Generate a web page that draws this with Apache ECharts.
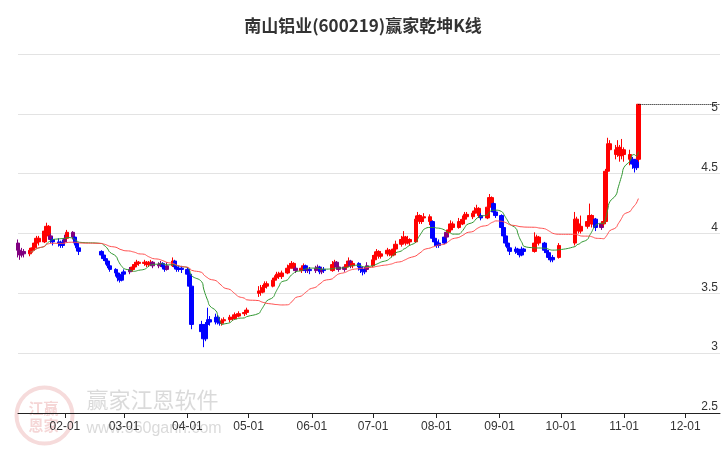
<!DOCTYPE html>
<html><head><meta charset="utf-8">
<script src="https://cdn.jsdelivr.net/npm/echarts@6/dist/echarts.min.js"></script>
<style>body{margin:0}#c{width:726px;height:450px}</style></head>
<body><div id="c"></div>
<script>
// 交易日（休市日）
var holidays = ['2024-02-09','2024-02-12','2024-02-13','2024-02-14','2024-02-15','2024-02-16',
  '2024-04-04','2024-04-05','2024-05-01','2024-05-02','2024-05-03','2024-06-10',
  '2024-09-16','2024-09-17','2024-10-01','2024-10-02','2024-10-03','2024-10-04','2024-10-07'];
var axisStart = '2024-01-09', axisEnd = '2024-12-18';
var firstDay = '2024-01-09', lastDay = '2024-11-08';

// K线 [开, 收, 低, 高]，按月
var kJan = [[3.92,3.86,3.80,3.95],[3.86,3.82,3.78,3.88],[3.82,3.85,3.80,3.88],[3.85,3.83,3.80,3.87],[3.83,3.86,3.81,3.88],
  [3.86,3.88,3.84,3.90],[3.88,3.92,3.86,3.94],[3.92,3.96,3.90,3.98],[3.96,3.93,3.90,3.98],[3.93,4.02,3.92,4.04],
  [4.02,4.06,3.99,4.09],[4.06,3.98,3.96,4.07],[3.98,3.95,3.92,4.00],[3.95,3.93,3.90,3.97],[3.93,3.92,3.89,3.96],
  [3.92,3.90,3.88,3.94],[3.90,3.93,3.88,3.95]];
var kFeb = [[3.93,3.96,3.91,3.99],[3.96,4.01,3.95,4.03],[4.01,3.97,3.95,4.02],[3.97,3.92,3.90,3.98],[3.92,3.88,3.85,3.93],
  [3.88,3.85,3.82,3.89],[3.85,3.82,3.80,3.86],[3.82,3.79,3.77,3.84],[3.79,3.77,3.74,3.80],[3.77,3.73,3.71,3.78],
  [3.73,3.70,3.68,3.75],[3.70,3.67,3.64,3.71],[3.67,3.63,3.60,3.68],[3.63,3.61,3.59,3.66],[3.61,3.66,3.60,3.68]];
var kMar = [[3.66,3.68,3.64,3.70],[3.68,3.70,3.66,3.72],[3.70,3.72,3.68,3.74],[3.72,3.74,3.70,3.76],[3.74,3.76,3.72,3.78],
  [3.76,3.75,3.73,3.77],[3.75,3.76,3.73,3.78],[3.76,3.74,3.72,3.77],[3.74,3.75,3.72,3.77],[3.75,3.76,3.73,3.78],
  [3.76,3.73,3.71,3.77],[3.73,3.74,3.71,3.76],[3.74,3.75,3.72,3.77],[3.75,3.72,3.70,3.76],[3.72,3.70,3.68,3.74],
  [3.70,3.73,3.69,3.76],[3.73,3.77,3.72,3.80],[3.77,3.72,3.70,3.78],[3.72,3.70,3.68,3.74],[3.70,3.71,3.68,3.73],
  [3.71,3.70,3.67,3.73]];
var kApr = [[3.70,3.66,3.63,3.72],[3.66,3.56,3.53,3.67],[3.56,3.24,3.20,3.57],[3.24,3.18,3.14,3.27],[3.18,3.12,3.05,3.20],
  [3.12,3.24,3.10,3.26],[3.24,3.28,3.22,3.38],[3.28,3.26,3.23,3.31],[3.26,3.30,3.24,3.33],[3.30,3.26,3.24,3.32],
  [3.26,3.25,3.23,3.28],[3.25,3.27,3.23,3.29],[3.27,3.28,3.25,3.30],[3.28,3.30,3.26,3.32],[3.30,3.29,3.27,3.32],
  [3.29,3.32,3.28,3.34],[3.32,3.31,3.29,3.33],[3.31,3.33,3.30,3.35],[3.33,3.34,3.31,3.36],[3.34,3.36,3.32,3.38]];
var kMay = [[3.50,3.52,3.47,3.56],[3.52,3.51,3.48,3.57],[3.51,3.55,3.50,3.57],[3.55,3.58,3.53,3.60],[3.58,3.56,3.54,3.60],
  [3.56,3.61,3.55,3.63],[3.61,3.63,3.59,3.65],[3.63,3.66,3.61,3.68],[3.66,3.64,3.62,3.68],[3.64,3.67,3.62,3.69],
  [3.67,3.71,3.66,3.74],[3.71,3.73,3.69,3.75],[3.73,3.75,3.71,3.77],[3.75,3.71,3.69,3.76],[3.71,3.69,3.67,3.73],
  [3.69,3.71,3.67,3.73],[3.71,3.73,3.69,3.75],[3.73,3.69,3.67,3.74],[3.69,3.70,3.67,3.72],[3.70,3.69,3.66,3.72]];
var kJun = [[3.69,3.71,3.67,3.73],[3.71,3.72,3.69,3.74],[3.72,3.68,3.66,3.73],[3.68,3.70,3.66,3.72],[3.70,3.69,3.67,3.72],
  [3.69,3.74,3.68,3.77],[3.74,3.76,3.72,3.78],[3.76,3.72,3.70,3.77],[3.72,3.70,3.68,3.74],[3.70,3.72,3.68,3.74],
  [3.72,3.74,3.70,3.77],[3.74,3.77,3.72,3.80],[3.77,3.73,3.71,3.78],[3.73,3.75,3.71,3.77],[3.75,3.72,3.69,3.76],
  [3.72,3.70,3.67,3.73],[3.70,3.68,3.65,3.72],[3.68,3.70,3.66,3.72],[3.70,3.73,3.68,3.76]];
var kJul = [[3.73,3.78,3.72,3.82],[3.78,3.82,3.76,3.85],[3.82,3.85,3.80,3.87],[3.85,3.81,3.79,3.86],[3.81,3.83,3.79,3.85],
  [3.83,3.86,3.81,3.88],[3.86,3.83,3.81,3.87],[3.83,3.82,3.80,3.85],[3.82,3.87,3.81,3.89],[3.87,3.91,3.86,3.94],
  [3.91,3.95,3.89,3.98],[3.95,3.97,3.93,4.02],[3.97,3.92,3.90,3.98],[3.92,3.95,3.91,3.98],[3.95,3.93,3.90,3.96],
  [3.93,4.12,3.92,4.15],[4.12,4.15,4.09,4.18],[4.15,4.10,4.08,4.16],[4.10,4.13,4.08,4.15],[4.13,4.14,4.10,4.17],
  [4.14,4.10,4.07,4.16],[4.10,3.96,3.93,4.11],[3.96,3.93,3.90,3.98]];
var kAug = [[3.93,3.90,3.88,3.95],[3.90,3.92,3.88,3.95],[3.92,3.97,3.91,4.00],[3.97,4.01,3.95,4.03],[4.01,4.03,3.99,4.06],
  [4.03,4.08,4.02,4.11],[4.08,4.05,4.03,4.10],[4.05,4.10,4.04,4.13],[4.10,4.08,4.06,4.12],[4.08,4.12,4.07,4.15],
  [4.12,4.16,4.10,4.18],[4.16,4.14,4.12,4.18],[4.14,4.17,4.12,4.19],[4.17,4.19,4.15,4.22],[4.19,4.21,4.17,4.24],
  [4.21,4.15,4.13,4.22],[4.15,4.13,4.11,4.17],[4.13,4.22,4.12,4.25],[4.22,4.30,4.20,4.33],[4.30,4.25,4.22,4.31],
  [4.25,4.18,4.16,4.26],[4.18,4.15,4.13,4.20]];
var kSep = [[4.15,4.05,4.02,4.16],[4.05,3.98,3.95,4.06],[3.98,3.92,3.89,3.99],[3.92,3.88,3.85,3.93],[3.88,3.85,3.82,3.90],
  [3.85,3.87,3.83,3.89],[3.87,3.84,3.82,3.88],[3.84,3.82,3.80,3.86],[3.82,3.87,3.81,3.89],[3.87,3.85,3.83,3.88],
  [3.85,3.92,3.84,4.01],[3.92,3.97,3.90,3.99],[3.97,3.92,3.90,3.98],[3.92,3.86,3.84,3.93],[3.86,3.84,3.82,3.88],
  [3.84,3.80,3.78,3.86],[3.80,3.78,3.76,3.82],[3.78,3.80,3.76,3.82],[3.80,3.90,3.79,3.92]];
var kOct = [[3.92,4.12,3.90,4.18],[4.12,4.08,4.04,4.14],[4.08,4.02,4.00,4.10],[4.02,4.06,4.00,4.15],
  [4.06,4.10,4.04,4.12],[4.10,4.15,4.08,4.25],[4.15,4.08,4.05,4.16],[4.08,4.12,4.06,4.15],[4.12,4.05,4.02,4.13],
  [4.05,4.08,4.03,4.10],[4.08,4.10,4.06,4.17],[4.10,4.52,4.09,4.54],[4.52,4.75,4.60,4.80],[4.75,4.70,4.66,4.78],
  [4.70,4.66,4.62,4.74],[4.66,4.72,4.64,4.78],[4.72,4.65,4.60,4.74],[4.65,4.70,4.62,4.79]];
var kNov = [[4.70,4.66,4.60,4.72],[4.66,4.62,4.57,4.70],[4.62,4.58,4.54,4.64],[4.58,4.55,4.51,4.60],[4.55,4.62,4.53,4.66],
  [4.62,5.08,4.60,5.08]];

var kData = [].concat(kJan, kFeb, kMar, kApr, kMay, kJun, kJul, kAug, kSep, kOct, kNov);

function fmt(d) {
  var m = d.getMonth() + 1, day = d.getDate();
  return d.getFullYear() + '-' + (m < 10 ? '0' : '') + m + '-' + (day < 10 ? '0' : '') + day;
}
// 日历日为类目轴
var days = [];
for (var d = new Date(axisStart + 'T00:00:00'); fmt(d) <= axisEnd; d.setDate(d.getDate() + 1)) days.push(fmt(d));
var tradeDays = days.filter(function (s) {
  var w = new Date(s + 'T00:00:00').getDay();
  return s >= firstDay && s <= lastDay && w != 0 && w != 6 && holidays.indexOf(s) < 0;
});

var kMap = {};
tradeDays.forEach(function (s, i) { if (kData[i]) { kMap[s] = kData[i]; } });
function ma(n) {
  var out = [], hist = [];
  days.forEach(function (s) {
    if (kMap[s]) {
      hist.push(kMap[s][1]);
      var k = hist.slice(-n), sum = 0;
      k.forEach(function (v) { sum += v; });
      out.push(hist.length >= Math.min(n, 5) ? +(sum / k.length).toFixed(3) : '-');
    } else out.push('-');
  });
  return out;
}
var ma10 = ma(10), ma30 = ma(30);
// 颜色按收盘价相对短均线：上红、下蓝、贴近为紫
var candle = days.map(function (s, i) {
  var k = kMap[s];
  if (!k) return '-';
  var m = ma10[i] == '-' ? k[1] : ma10[i];
  var c = k[1] - m > 0.012 ? '#ff0000' : (m - k[1] > 0.012 ? '#0000ff' : '#800080');
  return { value: k, itemStyle: { color: c, color0: c, borderColor: c, borderColor0: c, borderColorDoji: c } };
});
var last = tradeDays[kData.length - 1];

var chart = echarts.init(document.getElementById('c'));
chart.setOption({
  animation: false,
  title: { text: '南山铝业(600219)赢家乾坤K线', left: 'center', top: 12,
    textStyle: { fontSize: 17, fontWeight: 'bold', color: '#333', fontFamily: 'Noto Sans CJK SC' } },
  grid: { left: 18, right: 6, top: 54, bottom: 37 },
  xAxis: {
    type: 'category', data: days, boundaryGap: false,
    axisLine: { lineStyle: { color: '#222' } },
    axisTick: { interval: function (i, v) { return v.slice(8) == '01'; }, lineStyle: { color: '#222' } },
    axisLabel: { interval: function (i, v) { return v.slice(8) == '01'; }, formatter: function (v) { return v.slice(5); },
      color: '#333', fontSize: 12 },
    splitLine: { show: false }
  },
  yAxis: {
    type: 'value', min: 2.5, max: 5.5, interval: 0.5, position: 'right',
    axisLine: { show: false }, axisTick: { show: false },
    axisLabel: { inside: true, showMaxLabel: false, verticalAlign: 'bottom', margin: 2, color: '#333', fontSize: 12 },
    splitLine: { lineStyle: { color: '#e3e3e3' } }
  },
  graphic: [
    { type: 'group', left: 14, top: 385, children: [
      { type: 'circle', shape: { cx: 30, cy: 30, r: 28 }, style: { fill: 'none', stroke: 'rgba(215,90,90,0.22)', lineWidth: 4 } },
      { type: 'text', x: 14, y: 14, style: { text: '江赢\n恩家', fill: 'rgba(215,90,90,0.25)', font: 'bold 15px "Noto Sans CJK SC"', lineHeight: 17 } },
      { type: 'text', x: 72, y: 3, style: { text: '赢家江恩软件', fill: 'rgba(150,150,150,0.35)', font: '22px "Noto Sans CJK SC"' } },
      { type: 'text', x: 72, y: 35, style: { text: 'www.360gann.com', fill: 'rgba(150,150,150,0.35)', font: '16px sans-serif' } }
    ] }
  ],
  series: [
    { type: 'candlestick', data: candle, barWidth: 4, large: false,
      markLine: { silent: true, symbol: 'none', label: { show: false },
        lineStyle: { color: '#000', type: 'dotted', width: 1 },
        data: [[{ coord: [last, 5.08] }, { coord: [axisEnd, 5.08] }]] } },
    { type: 'line', data: ma10, smooth: true, symbol: 'none', connectNulls: true,
      lineStyle: { color: '#2f962f', width: 1 } },
    { type: 'line', data: ma30, smooth: true, symbol: 'none', connectNulls: true,
      lineStyle: { color: '#ff4d4d', width: 1 } }
  ]
});
</script></body></html>
